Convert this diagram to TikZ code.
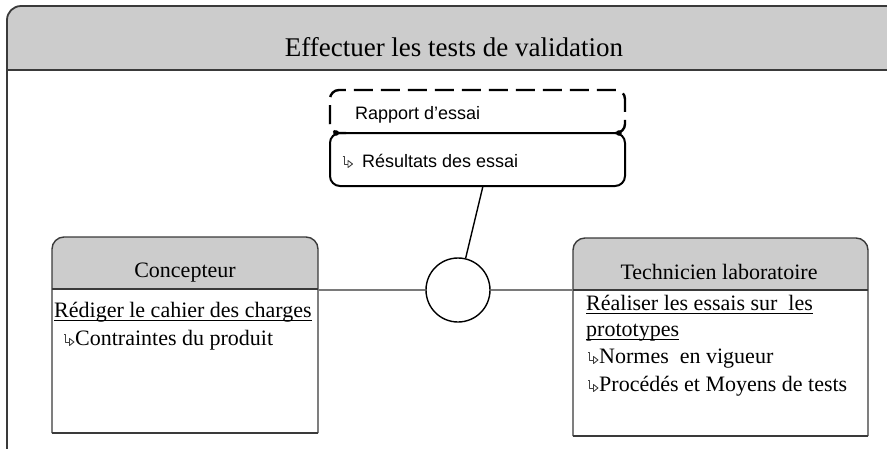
\documentclass[tikz,border=0pt]{standalone}
\usepackage{fontspec}
\setmainfont{Liberation Serif}
\setsansfont{Liberation Sans}
\definecolor{hdr}{HTML}{CCCCCC}
\definecolor{edge}{HTML}{3A3A3A}
\definecolor{conn}{HTML}{7A7A7A}
\begin{document}
\begin{tikzpicture}[x=1pt,y=-1pt,
  frameline/.style={draw=edge,line width=1.8pt},
  boxline/.style={draw=edge,line width=1.4pt},
  txt/.style={inner sep=0pt,anchor=base west,font=\fontsize{22}{26}\selectfont},
  sanstxt/.style={inner sep=0pt,anchor=base west,font=\sffamily\fontsize{18}{22}\selectfont},
  hline/.style={draw=conn,line width=2.4pt},
  uline/.style={draw=black,line width=1pt},
  hookicon/.pic={
    \draw[black!75,line width=0.9pt,line join=round]
      (-1.5,-11) -- (0,-11) -- (0,-3) -- (4,-3);
    \draw[black!75,line width=0.9pt,line join=round]
      (4,-6.5) -- (8.5,-3) -- (4,0.5) -- cycle;
  }]
\useasboundingbox (0,0) rectangle (887,448);
% outer frame
\begin{scope}
\clip (0,0) rectangle (887,448);
\fill[hdr,rounded corners=14] (7,70) -- (7,6) -- (900,6) -- (900,70);
\draw[frameline,rounded corners=14] (7,470) -- (7,6) -- (900,6) -- (900,470);
\draw[frameline] (7,70) -- (900,70);
\end{scope}
\node[inner sep=0pt,anchor=base,font=\fontsize{27}{30}\selectfont] (title) at (454,56) {Effectuer les tests de validation};

% Concepteur box
\fill[white] (52,289) rectangle (318,433);
\fill[hdr,rounded corners=12] (52,289) -- (52,237) -- (318,237) -- (318,289);
\draw[boxline,rounded corners=12] (52,433) -- (52,237) -- (318,237) -- (318,433);
\draw[boxline] (52,433) -- (318,433);
\draw[boxline] (52,289) -- (318,289);
\node[inner sep=0pt,minimum width=266pt,minimum height=196pt] (con) at (185,335) {};
\node[inner sep=0pt,anchor=base,font=\fontsize{22}{26}\selectfont] (conT) at (185,277) {Concepteur};
\node[txt] (con1) at (54,317) {Rédiger le cahier des charges};
\draw[uline] ([yshift=-3pt]con1.base west) -- ([yshift=-3pt]con1.base east);
\node[txt] (con2) at (75,345) {Contraintes du produit};
\pic at ([xshift=-9.5pt]con2.base west) {hookicon};

% Technicien box
\fill[white] (573,290) rectangle (868,436);
\fill[hdr,rounded corners=12] (573,290) -- (573,238) -- (868,238) -- (868,290);
\draw[boxline,rounded corners=12] (573,436) -- (573,238) -- (868,238) -- (868,436);
\draw[boxline] (573,436) -- (868,436);
\draw[boxline] (573,290) -- (868,290);
\node[inner sep=0pt,minimum width=295pt,minimum height=198pt] (tec) at (720.5,337) {};
\node[inner sep=0pt,anchor=base,font=\fontsize{22}{26}\selectfont] (tecT) at (719,279) {Technicien laboratoire};
\node[txt] (tec1) at (586,310) {Réaliser les essais sur\ \ les};
\draw[uline] ([yshift=-3pt]tec1.base west) -- ([yshift=-3pt]tec1.base east);
\node[txt] (tec2) at (586,336) {prototypes};
\draw[uline] ([yshift=-3pt]tec2.base west) -- ([yshift=-3pt]tec2.base east);
\node[txt] (tec3) at (599,363) {Normes\ \ en vigueur};
\pic at ([xshift=-9.5pt]tec3.base west) {hookicon};
\node[txt] (tec4) at (599,391) {Procédés et Moyens de tests};
\pic at ([xshift=-9.5pt]tec4.base west) {hookicon};

% report boxes
\node[inner sep=0pt,minimum width=295pt,minimum height=43pt] (rap) at (477.5,111.5) {};
\node[draw=black,fill=white,line width=2pt,rounded corners=10,
  minimum width=295pt,minimum height=53pt,inner sep=0pt] (res) at (477.5,159.5) {};
\draw[black,line width=2.4pt,dash pattern=on 19pt off 8pt,dash phase=6pt,rounded corners=9]
  (346,133) -- (330,133) -- (330,90) -- (625,90) -- (625,133) -- (609,133);
\fill (336,133) circle (2.8pt);
\fill (619,133) circle (2.8pt);
\node[sanstxt] (rapT) at (355,119) {Rapport d'essai};
\node[sanstxt] (resT) at (362,167) {Résultats des essai};
\pic at ([xshift=-18pt]resT.base west) {hookicon};

% circle and connectors
\node[circle,draw=black,line width=1.4pt,fill=white,minimum size=64pt,inner sep=0pt] (circ) at (458,290) {};
\coordinate (resb) at (483,186);
\draw[black,line width=1.4pt] (resb) -- (circ);
\draw[hline] (con.east |- circ.center) -- (circ.west);
\draw[hline] (circ.east) -- (tec.west |- circ.center);
\end{tikzpicture}
\end{document}
